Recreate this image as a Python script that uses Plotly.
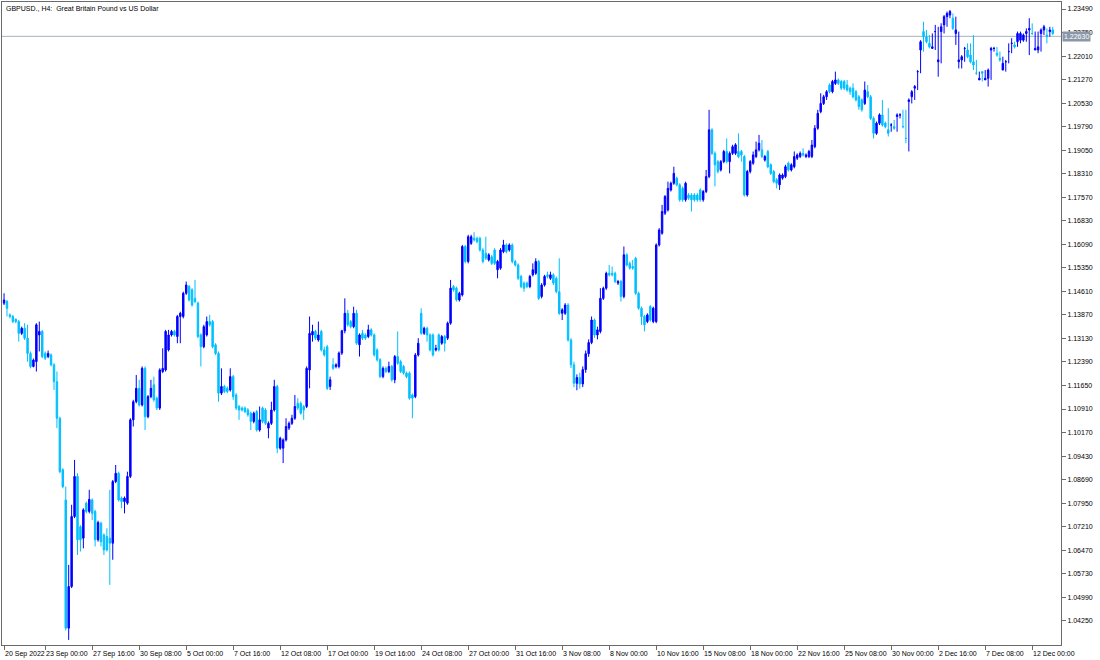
import datetime as dt
import plotly.graph_objects as go

# ---------------- data (GBPUSD H4) ----------------
OPEN = [
1.1424,1.1429,1.1387,1.1382,1.1373,1.1366,1.1329,1.1345,1.1314,1.1266,
1.1225,1.1240,1.1324,1.1335,1.1266,1.1256,1.1261,1.1230,1.1177,1.1062,
1.0900,1.0805,1.0402,1.0533,1.0753,1.0879,1.0721,1.0685,1.0795,1.0769,
1.0805,1.0769,1.0680,1.0732,1.0695,1.0690,1.0685,1.0669,1.0863,1.0889,
1.0811,1.0800,1.0795,1.0879,1.1057,1.1114,1.1156,1.1104,1.1219,1.1067,
1.1130,1.1167,1.1125,1.1094,1.1209,1.1214,1.1277,1.1324,1.1335,1.1319,
1.1382,1.1382,1.1455,1.1476,1.1466,1.1439,1.1424,1.1324,1.1287,1.1324,
1.1366,1.1366,1.1293,1.1266,1.1141,1.1162,1.1156,1.1151,1.1193,1.1135,
1.1099,1.1094,1.1094,1.1088,1.1078,1.1052,1.1083,1.1025,1.1094,1.1088,
1.1031,1.1046,
1.1088,1.1162,1.0968,1.0968,1.0994,1.1031,1.1046,1.1062,1.1109,1.1109,
1.1099,1.1099,1.1214,1.1324,1.1335,1.1308,1.1335,1.1277,1.1287,1.1162,
1.1230,1.1225,1.1225,1.1267,1.1337,1.1392,1.1366,1.1350,1.1392,1.1293,
1.1329,1.1324,1.1319,1.1340,1.1324,1.1277,1.1246,1.1193,1.1219,1.1209,
1.1225,1.1183,1.1256,1.1240,1.1225,1.1204,1.1204,1.1135,1.1130,1.1261,
1.1392,1.1329,1.1345,1.1324,1.1324,1.1277,1.1324,1.1298,1.1319,1.1314,
1.1361,1.1476,1.1471,1.1434,1.1450,1.1602,1.1555,1.1612,1.1628,1.1628,
1.1628,1.1591,1.1581,1.1560,1.1570,1.1591,1.1529,1.1534,1.1586,1.1607,
1.1591,1.1607,1.1555,1.1544,1.1508,1.1487,1.1487,1.1476,1.1513,
1.1518,1.1555,1.1445,1.1481,1.1513,1.1502,1.1513,1.1502,1.1460,1.1392,
1.1392,1.1418,1.1308,1.1230,1.1172,1.1190,1.1170,1.1215,1.1265,1.1300,
1.1371,1.1324,1.1335,1.1439,1.1471,1.1518,1.1518,1.1518,1.1487,1.1492,
1.1445,1.1576,1.1549,1.1539,1.1565,1.1455,1.1408,1.1382,1.1366,1.1413,
1.1366,1.1366,1.1607,1.1644,1.1707,1.1717,1.1780,1.1801,1.1817,1.1796,
1.1785,1.1749,1.1764,1.1764,1.1764,1.1764,1.1780,1.1749,1.1775,1.1822,
1.1969,1.1895,1.1869,1.1843,1.1869,1.1901,1.1869,1.1895,1.1895,1.1901,
1.1901,1.1885,1.1764,1.1838,1.1864,1.1885,1.1906,1.1906,1.1874,1.1901,
1.1859,1.1838,1.1812,1.1796,1.1817,1.1822,1.1864,1.1843,1.1853,1.1880,
1.1885,1.1895,1.1885,1.1885,1.1885,1.1916,1.1974,1.2026,1.2052,1.2073,
1.2110,1.2089,1.2115,1.2126,1.2121,1.2121,1.2110,1.2100,1.2100,1.2089,
1.2073,1.2063,1.2052,1.2089,1.2073,1.2005,1.1958,1.1990,1.2016,1.1990,
1.1969,1.1984,1.1979,1.2011,1.2016,1.1979,1.1942,1.2058,1.2073,1.2100,
1.2152,1.2220,1.2278,1.2262,1.2241,1.2225,1.2278,1.2183,1.2278,1.2299,
1.2325,1.2330,1.2320,1.2272,1.2183,1.2189,1.2225,1.2220,1.2204,1.2183,
1.2147,1.2126,1.2152,1.2126,1.2131,1.2220,1.2225,1.2210,1.2194,1.2157,
1.2183,1.2215,1.2241,1.2236,1.2246,1.2251,1.2251,1.2272,1.2283,1.2272,
1.2220,1.2220,1.2272,1.2283,1.2267,1.2278,1.2283,
]
HIGH = [
1.1455,1.1434,1.1392,1.1387,1.1376,1.1371,1.1350,1.1361,1.1356,1.1272,
1.1250,1.1361,1.1366,1.1340,1.1272,1.1275,1.1266,1.1235,1.1209,1.1067,
1.0905,1.0847,1.0601,1.0790,1.0931,1.0889,1.0726,1.0779,1.0800,1.0837,
1.0810,1.0774,1.0740,1.0737,1.0700,1.0716,1.0837,1.0868,1.0915,1.0894,
1.0816,1.0816,1.0894,1.1062,1.1120,1.1198,1.1183,1.1225,1.1225,1.1135,
1.1183,1.1193,1.1130,1.1219,1.1282,1.1340,1.1340,1.1340,1.1340,1.1387,
1.1397,1.1460,1.1492,1.1481,1.1471,1.1497,1.1429,1.1329,1.1356,1.1382,
1.1387,1.1371,1.1298,1.1272,1.1219,1.1167,1.1162,1.1219,1.1198,1.1141,
1.1104,1.1099,1.1099,1.1094,1.1083,1.1083,1.1088,1.1099,1.1099,1.1094,
1.1052,1.1114,
1.1183,1.1167,1.1004,1.0999,1.1062,1.1052,1.1073,1.1135,1.1125,1.1115,
1.1104,1.1225,1.1382,1.1356,1.1340,1.1366,1.1340,1.1287,1.1293,1.1193,
1.1251,1.1235,1.1272,1.1340,1.1439,1.1403,1.1371,1.1413,1.1403,1.1329,
1.1340,1.1329,1.1356,1.1345,1.1329,1.1282,1.1251,1.1225,1.1225,1.1240,
1.1230,1.1261,1.1335,1.1246,1.1230,1.1209,1.1209,1.1140,1.1267,1.1314,
1.1408,1.1350,1.1350,1.1329,1.1329,1.1293,1.1329,1.1324,1.1324,1.1366,
1.1497,1.1481,1.1476,1.1460,1.1607,1.1607,1.1639,1.1639,1.1647,1.1633,
1.1633,1.1597,1.1633,1.1581,1.1576,1.1597,1.1560,1.1597,1.1623,1.1612,
1.1612,1.1612,1.1560,1.1549,1.1513,1.1492,1.1492,1.1513,1.1549,
1.1565,1.1560,1.1487,1.1513,1.1523,1.1523,1.1518,1.1508,1.1565,1.1408,
1.1424,1.1424,1.1314,1.1240,1.1200,1.1205,1.1225,1.1275,1.1310,1.1382,
1.1376,1.1350,1.1471,1.1476,1.1523,1.1544,1.1539,1.1523,1.1497,1.1497,
1.1602,1.1581,1.1555,1.1560,1.1570,1.1460,1.1413,1.1387,1.1392,1.1418,
1.1413,1.1612,1.1660,1.1733,1.1764,1.1806,1.1806,1.1853,1.1822,1.1801,
1.1791,1.1806,1.1770,1.1770,1.1770,1.1770,1.1785,1.1780,1.1843,1.2032,
1.1974,1.1901,1.1874,1.1874,1.1906,1.1942,1.1901,1.1922,1.1927,1.1958,
1.1906,1.1890,1.1843,1.1874,1.1901,1.1932,1.1953,1.1937,1.1890,1.1906,
1.1864,1.1843,1.1817,1.1832,1.1832,1.1859,1.1869,1.1864,1.1901,1.1895,
1.1901,1.1911,1.1895,1.1906,1.1937,1.1984,1.2032,1.2084,1.2079,1.2094,
1.2115,1.2126,1.2152,1.2131,1.2126,1.2126,1.2126,1.2105,1.2115,1.2094,
1.2079,1.2068,1.2121,1.2110,1.2079,1.2011,1.1995,1.2021,1.2063,1.1995,
1.2037,1.1990,1.2000,1.2021,1.2021,1.2032,1.2032,1.2068,1.2094,1.2110,
1.2157,1.2251,1.2309,1.2283,1.2267,1.2272,1.2299,1.2293,1.2304,1.2330,
1.2341,1.2346,1.2335,1.2325,1.2278,1.2204,1.2230,1.2241,1.2241,1.2267,
1.2189,1.2152,1.2152,1.2157,1.2162,1.2230,1.2230,1.2230,1.2215,1.2199,
1.2189,1.2241,1.2257,1.2246,1.2278,1.2278,1.2272,1.2288,1.2320,1.2304,
1.2278,1.2278,1.2288,1.2299,1.2288,1.2293,1.2293,1.2304,
]
LOW = [
1.1418,1.1382,1.1376,1.1361,1.1361,1.1303,1.1324,1.1308,1.1240,1.1219,
1.1222,1.1209,1.1272,1.1251,1.1245,1.1251,1.1225,1.1151,1.1031,1.0889,
1.0842,1.0395,1.0365,1.0528,1.0748,1.0632,1.0643,1.0653,1.0763,1.0763,
1.0742,1.0659,1.0674,1.0659,1.0632,1.0643,1.0538,1.0617,1.0858,1.0800,
1.0779,1.0763,1.0790,1.0874,1.1036,1.1109,1.1099,1.1099,1.1025,1.1062,
1.1125,1.1114,1.1088,1.1088,1.1204,1.1209,1.1272,1.1319,1.1319,1.1298,
1.1298,1.1376,1.1450,1.1429,1.1413,1.1424,1.1314,1.1225,1.1282,1.1319,
1.1350,1.1282,1.1261,1.1114,1.1135,1.1141,1.1141,1.1146,1.1120,1.1088,
1.1057,1.1083,1.1078,1.1067,1.1025,1.1046,1.1020,1.1020,1.1046,1.1041,
1.0999,1.1041,
1.1083,1.0952,1.0963,1.0921,1.0989,1.1025,1.1041,1.1057,1.1088,1.1073,
1.1057,1.1094,1.1156,1.1303,1.1308,1.1303,1.1272,1.1256,1.1151,1.1151,
1.1214,1.1219,1.1219,1.1261,1.1329,1.1350,1.1345,1.1345,1.1293,1.1256,
1.1308,1.1308,1.1314,1.1319,1.1256,1.1240,1.1188,1.1188,1.1204,1.1204,
1.1177,1.1172,1.1230,1.1204,1.1199,1.1188,1.1120,1.1062,1.1125,1.1256,
1.1324,1.1324,1.1303,1.1272,1.1256,1.1272,1.1272,1.1293,1.1272,1.1308,
1.1356,1.1460,1.1429,1.1429,1.1445,1.1549,1.1549,1.1607,1.1618,1.1612,
1.1586,1.1549,1.1560,1.1555,1.1544,1.1544,1.1502,1.1529,1.1581,1.1581,
1.1586,1.1549,1.1539,1.1497,1.1471,1.1460,1.1471,1.1471,1.1508,
1.1513,1.1434,1.1439,1.1476,1.1502,1.1497,1.1481,1.1455,1.1387,1.1371,
1.1387,1.1303,1.1220,1.1160,1.1150,1.1155,1.1160,1.1205,1.1255,1.1295,
1.1315,1.1310,1.1329,1.1434,1.1466,1.1508,1.1508,1.1487,1.1481,1.1429,
1.1439,1.1539,1.1529,1.1529,1.1450,1.1403,1.1356,1.1335,1.1361,1.1366,
1.1361,1.1361,1.1602,1.1639,1.1701,1.1712,1.1775,1.1796,1.1791,1.1743,
1.1743,1.1743,1.1749,1.1712,1.1743,1.1743,1.1743,1.1743,1.1770,1.1817,
1.1890,1.1791,1.1832,1.1838,1.1864,1.1864,1.1832,1.1890,1.1890,1.1880,
1.1869,1.1759,1.1759,1.1832,1.1859,1.1880,1.1901,1.1880,1.1869,1.1848,
1.1827,1.1801,1.1785,1.1780,1.1812,1.1817,1.1838,1.1838,1.1848,1.1874,
1.1880,1.1885,1.1880,1.1880,1.1880,1.1911,1.1969,1.2021,1.2047,1.2063,
1.2084,1.2084,1.2110,1.2110,1.2094,1.2094,1.2089,1.2079,1.2068,1.2058,
1.2032,1.2026,1.2047,1.2068,1.2000,1.1942,1.1953,1.1984,1.1979,1.1974,
1.1948,1.1963,1.1969,1.1963,1.2005,1.1974,1.1927,1.1901,1.2052,1.2063,
1.2094,1.2147,1.2215,1.2241,1.2225,1.2225,1.2220,1.2136,1.2178,1.2272,
1.2293,1.2320,1.2283,1.2236,1.2162,1.2162,1.2183,1.2194,1.2178,1.2157,
1.2142,1.2126,1.2121,1.2126,1.2105,1.2126,1.2215,1.2199,1.2183,1.2173,
1.2152,1.2178,1.2210,1.2225,1.2230,1.2241,1.2246,1.2246,1.2204,1.2267,
1.2220,1.2210,1.2215,1.2267,1.2241,1.2262,1.2267,1.2257,
]
CLOSE = [
1.1434,1.1408,1.1382,1.1366,1.1366,1.1329,1.1345,1.1314,1.1266,1.1225,
1.1245,1.1356,1.1335,1.1256,1.1251,1.1266,1.1230,1.1177,1.1062,1.0894,
1.0847,1.0402,1.0533,1.0753,1.0879,1.0680,1.0680,1.0774,1.0769,1.0807,
1.0763,1.0680,1.0734,1.0674,1.0648,1.0648,1.0669,1.0863,1.0889,1.0805,
1.0800,1.0811,1.0879,1.1057,1.1114,1.1156,1.1104,1.1219,1.1067,1.1130,
1.1156,1.1120,1.1094,1.1214,1.1219,1.1335,1.1324,1.1335,1.1324,1.1382,
1.1392,1.1455,1.1481,1.1434,1.1418,1.1429,1.1319,1.1287,1.1350,1.1366,
1.1356,1.1287,1.1266,1.1141,1.1162,1.1146,1.1146,1.1193,1.1130,1.1094,
1.1088,1.1088,1.1083,1.1073,1.1052,1.1078,1.1025,1.1057,1.1052,1.1046,
1.1046,1.1088,
1.1162,1.0968,1.0999,1.0994,1.1036,1.1046,1.1062,1.1099,1.1094,1.1078,
1.1088,1.1219,1.1329,1.1335,1.1314,1.1324,1.1277,1.1261,1.1156,1.1183,
1.1219,1.1230,1.1267,1.1337,1.1392,1.1356,1.1350,1.1392,1.1298,1.1324,
1.1314,1.1314,1.1340,1.1324,1.1261,1.1246,1.1193,1.1219,1.1209,1.1225,
1.1183,1.1256,1.1235,1.1209,1.1204,1.1193,1.1125,1.1125,1.1261,1.1298,
1.1329,1.1345,1.1324,1.1277,1.1261,1.1282,1.1277,1.1319,1.1298,1.1361,
1.1471,1.1466,1.1434,1.1455,1.1602,1.1555,1.1633,1.1633,1.1623,1.1618,
1.1591,1.1555,1.1565,1.1576,1.1549,1.1549,1.1555,1.1591,1.1607,1.1586,
1.1607,1.1555,1.1544,1.1502,1.1476,1.1471,1.1476,1.1508,1.1529,
1.1555,1.1439,1.1481,1.1508,1.1508,1.1513,1.1487,1.1460,1.1392,1.1403,
1.1418,1.1308,1.1230,1.1172,1.1190,1.1170,1.1215,1.1265,1.1300,1.1371,
1.1324,1.1340,1.1439,1.1471,1.1518,1.1513,1.1513,1.1492,1.1492,1.1445,
1.1576,1.1544,1.1534,1.1534,1.1455,1.1408,1.1382,1.1356,1.1387,1.1371,
1.1408,1.1607,1.1654,1.1712,1.1759,1.1785,1.1801,1.1832,1.1796,1.1749,
1.1749,1.1801,1.1754,1.1749,1.1749,1.1749,1.1749,1.1775,1.1822,1.1969,
1.1895,1.1859,1.1838,1.1869,1.1901,1.1869,1.1895,1.1916,1.1922,1.1885,
1.1890,1.1764,1.1838,1.1869,1.1890,1.1906,1.1927,1.1885,1.1885,1.1853,
1.1832,1.1806,1.1801,1.1827,1.1827,1.1853,1.1843,1.1859,1.1885,1.1890,
1.1895,1.1890,1.1890,1.1901,1.1921,1.1974,1.2021,1.2052,1.2073,1.2089,
1.2089,1.2121,1.2126,1.2115,1.2100,1.2100,1.2094,1.2089,1.2073,1.2063,
1.2042,1.2032,1.2094,1.2073,1.2005,1.1958,1.1990,1.2016,1.1984,1.1979,
1.1958,1.1984,1.1974,1.2016,1.2016,1.1979,1.1942,1.2063,1.2089,1.2105,
1.2152,1.2246,1.2262,1.2246,1.2230,1.2230,1.2278,1.2189,1.2293,1.2325,
1.2335,1.2341,1.2288,1.2283,1.2189,1.2199,1.2225,1.2199,1.2183,1.2173,
1.2147,1.2131,1.2147,1.2131,1.2157,1.2225,1.2225,1.2204,1.2189,1.2178,
1.2183,1.2215,1.2241,1.2230,1.2272,1.2272,1.2267,1.2278,1.2288,1.2272,
1.2225,1.2230,1.2283,1.2293,1.2262,1.2283,1.2272,1.2263,
]

X_TICK_LABELS = ["20 Sep 2022", "23 Sep 00:00", "27 Sep 16:00", "30 Sep 08:00", "5 Oct 00:00",
                 "7 Oct 16:00", "12 Oct 08:00", "17 Oct 00:00", "19 Oct 16:00", "24 Oct 08:00",
                 "27 Oct 00:00", "31 Oct 16:00", "3 Nov 08:00", "8 Nov 00:00", "10 Nov 16:00",
                 "15 Nov 08:00", "18 Nov 00:00", "22 Nov 16:00", "25 Nov 08:00", "30 Nov 00:00",
                 "2 Dec 16:00", "7 Dec 08:00", "12 Dec 00:00"]
Y_TICKS = [1.04250, 1.04990, 1.05730, 1.06470, 1.07210, 1.07950, 1.08690, 1.09430, 1.10170,
           1.10910, 1.11650, 1.12390, 1.13130, 1.13870, 1.14610, 1.15350, 1.16090, 1.16830,
           1.17570, 1.18310, 1.19050, 1.19790, 1.20530, 1.21270, 1.22010, 1.22750, 1.23490]
CURRENT_PRICE = 1.22630
TITLE = "GBPUSD., H4:  Great Britain Pound vs US Dollar"

# ---------------- time axis (H4 bars, weekdays only) ----------------
n = len(CLOSE)
times = []
t = dt.datetime(2022, 9, 20, 16, 0)
while len(times) < n:
    if t.weekday() < 5:
        times.append(t)
    t += dt.timedelta(hours=4)
cats = [tm.strftime("%Y-%m-%d %H:%M") for tm in times]
short = [f"{tm.day} {tm:%b} {tm:%H:%M}" for tm in times]
tick_idx = [0] + [short.index(lbl) for lbl in X_TICK_LABELS[1:]]

FONT = "Liberation Sans, Arial, sans-serif"
FS = 7
BULL = "#0000FF"
BEAR = "#00BFFF"

fig = go.Figure(go.Candlestick(
    x=cats, open=OPEN, high=HIGH, low=LOW, close=CLOSE,
    increasing=dict(line=dict(color=BULL, width=1), fillcolor=BULL),
    decreasing=dict(line=dict(color=BEAR, width=1), fillcolor=BEAR),
    whiskerwidth=0, hoverinfo="skip",
))

# price line + label
fig.add_shape(type="line", xref="paper", x0=0, x1=1, yref="y", y0=CURRENT_PRICE, y1=CURRENT_PRICE,
              line=dict(color="#A7B2C1", width=1), layer="below")
fig.add_annotation(xref="paper", x=1, xanchor="left", xshift=1, yref="y", y=CURRENT_PRICE,
                   text=f"{CURRENT_PRICE:.5f}", showarrow=False,
                   font=dict(family=FONT, size=FS, color="white"),
                   bgcolor="#8A97A9", borderpad=1)

# title
fig.add_annotation(xref="paper", yref="paper", x=0, y=1, xanchor="left", yanchor="top",
                   xshift=2, yshift=-1, text=TITLE, showarrow=False,
                   font=dict(family=FONT, size=FS, color="#000000"))

# x tick labels (left aligned after tick, MT5 style)
for i, lbl in zip(tick_idx, X_TICK_LABELS):
    fig.add_annotation(xref="x", yref="paper", x=i, y=0, xanchor="left", yanchor="top",
                       xshift=-1, yshift=-3, text=lbl, showarrow=False,
                       font=dict(family=FONT, size=FS, color="#000000"))

fig.update_layout(
    width=1100, height=660,
    margin=dict(l=2, r=39, t=2, b=15),
    paper_bgcolor="white", plot_bgcolor="white",
    showlegend=False,
    xaxis=dict(type="category", range=[-0.7, n + 0.8], rangeslider=dict(visible=False),
               showgrid=False, zeroline=False, showline=True, linecolor="#6A6A6A", linewidth=1,
               mirror=True, ticks="outside", ticklen=4, tickcolor="#6A6A6A",
               tickvals=[cats[i] for i in tick_idx], showticklabels=False),
    yaxis=dict(side="right", range=[1.0349, 1.2371], showgrid=False, zeroline=False,
               showline=True, linecolor="#6A6A6A", linewidth=1, mirror=True,
               ticks="outside", ticklen=4, tickcolor="#6A6A6A",
               tickvals=Y_TICKS, ticktext=[f"{v:.5f}" for v in Y_TICKS],
               tickfont=dict(family=FONT, size=FS, color="#000000")),
)

fig.write_html("out.html", config={"displayModeBar": False},
               post_script="document.body.style.margin='0';")
